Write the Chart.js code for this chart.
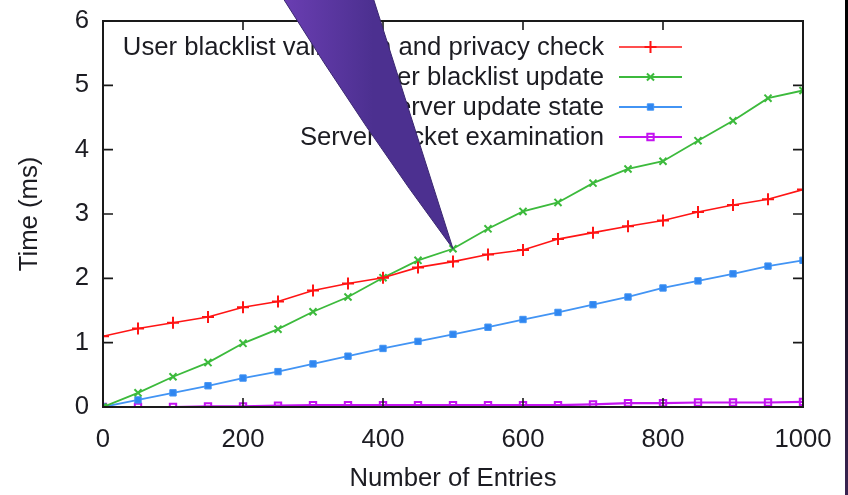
<!DOCTYPE html>
<html>
<head>
<meta charset="utf-8">
<script src="https://cdn.jsdelivr.net/npm/chart.js@4/dist/chart.umd.min.js"></script>
<style>
  html, body { margin: 0; padding: 0; background: #fff; overflow: hidden; }
  #wrap { position: relative; width: 848px; height: 495px; }
  #edge { position: absolute; right: 0; top: 0; width: 3px; height: 495px;
          background: linear-gradient(#000 0%, #0d0a12 45%, #3a2452 100%); }
</style>
</head>
<body>
<div id="wrap">
  <canvas id="c" width="848" height="495"></canvas>
  <div id="edge"></div>
</div>
<script>
// Number of entries on the x axis
const entries = [0, 50, 100, 150, 200, 250, 300, 350, 400, 450, 500,
                 550, 600, 650, 700, 750, 800, 850, 900, 950, 1000];

// Time in ms per operation
const validationTime = [1.10, 1.22, 1.31, 1.40, 1.55, 1.64, 1.81, 1.92, 2.01, 2.17, 2.26,
                        2.37, 2.44, 2.61, 2.71, 2.81, 2.90, 3.03, 3.14, 3.23, 3.38];
const blacklistUpdateTime = [0.00, 0.22, 0.47, 0.69, 0.99, 1.21, 1.48, 1.71, 2.01, 2.28, 2.46,
                             2.77, 3.04, 3.18, 3.48, 3.70, 3.82, 4.14, 4.45, 4.80, 4.92];
const serverUpdateTime = [0.00, 0.11, 0.22, 0.33, 0.45, 0.55, 0.67, 0.79, 0.91, 1.02, 1.13,
                          1.24, 1.36, 1.47, 1.59, 1.71, 1.85, 1.96, 2.07, 2.19, 2.28];
const packetExamTime = [0.00, 0.00, 0.00, 0.01, 0.01, 0.02, 0.03, 0.03, 0.03, 0.03, 0.03,
                        0.03, 0.03, 0.03, 0.04, 0.06, 0.06, 0.07, 0.07, 0.07, 0.08];

const seriesLabels = [
  'User blacklist validation and privacy check',
  'User blacklist update',
  'Server update state',
  'Server packet examination'
];

const xTicks = [0, 200, 400, 600, 800, 1000];
const yTicks = [0, 1, 2, 3, 4, 5, 6];

const FONT = 'Liberation Sans, Arial, Helvetica, sans-serif';
const TEXT = '#1c1c22';
const FONT_SIZE = 25.7;

const toPoints = (vals) => entries.map((x, i) => ({ x: x, y: vals[i] }));

const datasets = [
  { label: seriesLabels[0], data: toPoints(validationTime),
    borderColor: '#ff1414', backgroundColor: '#ff1414',
    pointStyle: 'cross', pointRadius: 6, pointBorderWidth: 2, borderWidth: 1.6 },
  { label: seriesLabels[1], data: toPoints(blacklistUpdateTime),
    borderColor: '#3cba3c', backgroundColor: '#3cba3c',
    pointStyle: 'crossRot', pointRadius: 5, pointBorderWidth: 2, borderWidth: 1.8 },
  { label: seriesLabels[2], data: toPoints(serverUpdateTime),
    borderColor: '#4294f4', backgroundColor: '#2f86f0',
    pointStyle: 'rect', pointRadius: 4.5, pointBorderWidth: 1, borderWidth: 1.8 },
  { label: seriesLabels[3], data: toPoints(packetExamTime),
    borderColor: '#c414f0', backgroundColor: 'rgba(255,255,255,0)',
    pointStyle: 'rect', pointRadius: 4.5, pointBorderWidth: 2, borderWidth: 2.2 }
];

// Plot frame with inward, mirrored tick marks
const framePlugin = {
  id: 'frame',
  afterDatasetsDraw(chart) {
    const { ctx, chartArea: a, scales: { x, y } } = chart;
    ctx.save();
    ctx.strokeStyle = '#1a1a1a';
    ctx.lineWidth = 2;
    ctx.strokeRect(a.left, a.top, a.right - a.left, a.bottom - a.top);
    ctx.lineWidth = 1.6;
    ctx.beginPath();
    xTicks.forEach(v => {
      const px = x.getPixelForValue(v);
      ctx.moveTo(px, a.bottom); ctx.lineTo(px, a.bottom - 9);
      ctx.moveTo(px, a.top); ctx.lineTo(px, a.top + 9);
    });
    yTicks.forEach(v => {
      const py = y.getPixelForValue(v);
      ctx.moveTo(a.left, py); ctx.lineTo(a.left + 10, py);
      ctx.moveTo(a.right, py); ctx.lineTo(a.right - 10, py);
    });
    ctx.stroke();
    ctx.restore();
  }
};

// Key in the upper right: right-aligned text followed by a line sample
const keyPlugin = {
  id: 'key',
  afterDraw(chart) {
    const { ctx, chartArea: a } = chart;
    ctx.save();
    ctx.font = FONT_SIZE + 'px ' + FONT;
    ctx.textAlign = 'right';
    ctx.textBaseline = 'middle';
    chart.data.datasets.forEach((ds, i) => {
      const yy = a.top + 26 + i * 30;
      const textRight = a.left + 501;
      ctx.fillStyle = TEXT;
      ctx.fillText(ds.label, textRight, yy + 1);
      const x0 = textRight + 15, x1 = textRight + 78;
      ctx.strokeStyle = ds.borderColor;
      ctx.lineWidth = ds.borderWidth;
      ctx.beginPath(); ctx.moveTo(x0, yy); ctx.lineTo(x1, yy); ctx.stroke();
      ctx.fillStyle = ds.backgroundColor;
      ctx.lineWidth = ds.pointBorderWidth;
      Chart.helpers.drawPoint(ctx, {
        pointStyle: ds.pointStyle, radius: ds.pointRadius, rotation: 0,
        borderWidth: ds.pointBorderWidth
      }, (x0 + x1) / 2, yy);
    });
    ctx.restore();
  }
};

// Callout tail pointing at the 500-entry update point
const calloutPlugin = {
  id: 'callout',
  afterDraw(chart) {
    const { ctx, scales: { x, y } } = chart;
    const tipX = x.getPixelForValue(entries[10]);
    const tipY = y.getPixelForValue(blacklistUpdateTime[10]);
    const leftX = x.getPixelForValue(257);
    const rightX = x.getPixelForValue(386);
    ctx.save();
    const g = ctx.createLinearGradient(leftX, 0, rightX, 0);
    g.addColorStop(0, '#6a3eb2');
    g.addColorStop(1, '#4c3090');
    ctx.fillStyle = g;
    ctx.strokeStyle = '#3a2770';
    ctx.lineWidth = 1;
    ctx.beginPath();
    ctx.moveTo(leftX, -2);
    ctx.quadraticCurveTo(leftX + (tipX - leftX) * 0.48, tipY * 0.52, tipX, tipY);
    ctx.lineTo(rightX, -2);
    ctx.closePath();
    ctx.fill();
    ctx.stroke();
    ctx.restore();
  }
};

new Chart(document.getElementById('c'), {
  type: 'line',
  data: { datasets: datasets },
  options: {
    responsive: false,
    animation: false,
    devicePixelRatio: 1,
    layout: { padding: { left: 0, right: 45, top: 21, bottom: 0 } },
    plugins: { legend: { display: false }, tooltip: { enabled: false } },
    elements: { line: { tension: 0 } },
    scales: {
      x: {
        type: 'linear', min: 0, max: 1000,
        afterBuildTicks: (s) => { s.ticks = xTicks.map(v => ({ value: v })); },
        afterFit: (s) => { s.height = 88; s.paddingLeft = 0; s.paddingRight = 0; },
        grid: { display: false, drawTicks: false },
        border: { display: false },
        ticks: { color: TEXT, font: { family: FONT, size: FONT_SIZE }, padding: 17,
                 maxRotation: 0, callback: (v) => String(v) },
        title: { display: true, text: 'Number of Entries', color: TEXT,
                 font: { family: FONT, size: FONT_SIZE }, padding: { top: 0, bottom: 1 } }
      },
      y: {
        min: 0, max: 6,
        afterBuildTicks: (s) => { s.ticks = yTicks.map(v => ({ value: v })); },
        afterFit: (s) => { s.width = 103; s.paddingTop = 0; s.paddingBottom = 0; },
        grid: { display: false, drawTicks: false },
        border: { display: false },
        ticks: { color: TEXT, font: { family: FONT, size: FONT_SIZE }, padding: 14,
                 callback: (v) => String(v) },
        title: { display: true, text: 'Time (ms)', color: TEXT,
                 font: { family: FONT, size: FONT_SIZE }, padding: { top: 14, bottom: 0 } }
      }
    }
  },
  plugins: [framePlugin, keyPlugin, calloutPlugin]
});
</script>
</body>
</html>
